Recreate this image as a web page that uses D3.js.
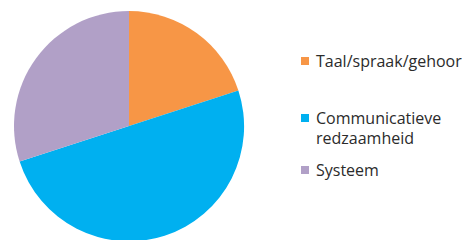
<!DOCTYPE html>
<head>
<meta charset="utf-8">
<script src="https://d3js.org/d3.v7.min.js"></script>
<style>
  body { margin: 0; background: #fff; }
  text { font-family: "Open Sans", sans-serif; font-size: 16px; fill: #2b2b2b; }
</style>
</head>
<body>
<svg width="462" height="240"></svg>
<script>
    let categories = ['Taal/spraak/gehoor', 'Communicatieve redzaamheid', 'Systeem']
    let values = [20, 50, 30]
    let colors = ['#F79646', '#00B0F0', '#B1A0C7']

    var svg = d3.select('svg')
    var cx = 129, cy = 126, r = 115

    var pie = d3.pie().sort(null).value(function(d) { return d; })
    var arc = d3.arc().innerRadius(0).outerRadius(r)

    var g = svg.append('g').attr('transform', 'translate(' + cx + ',' + cy + ')')
    g.selectAll('path')
        .data(pie(values))
        .enter()
        .append('path')
            .attr('d', arc)
            .attr('fill', function(d, i) { return colors[i]; })

    // legend, wrapped labels as in the original
    let legendLines = [['Taal/spraak/gehoor'], ['Communicatieve', 'redzaamheid'], ['Systeem']]
    let legendY = [61, 118, 170]
    var legend = svg.append('g')
    legendLines.forEach(function(lines, i) {
        legend.append('rect')
            .attr('x', 301).attr('y', legendY[i] - 4)
            .attr('width', 8).attr('height', 8)
            .attr('fill', colors[i])
        lines.forEach(function(t, j) {
            legend.append('text')
                .attr('x', 316).attr('y', legendY[i] + j * 20)
                .attr('dy', '0.35em')
                .text(t)
        })
    })
</script>
</body>
